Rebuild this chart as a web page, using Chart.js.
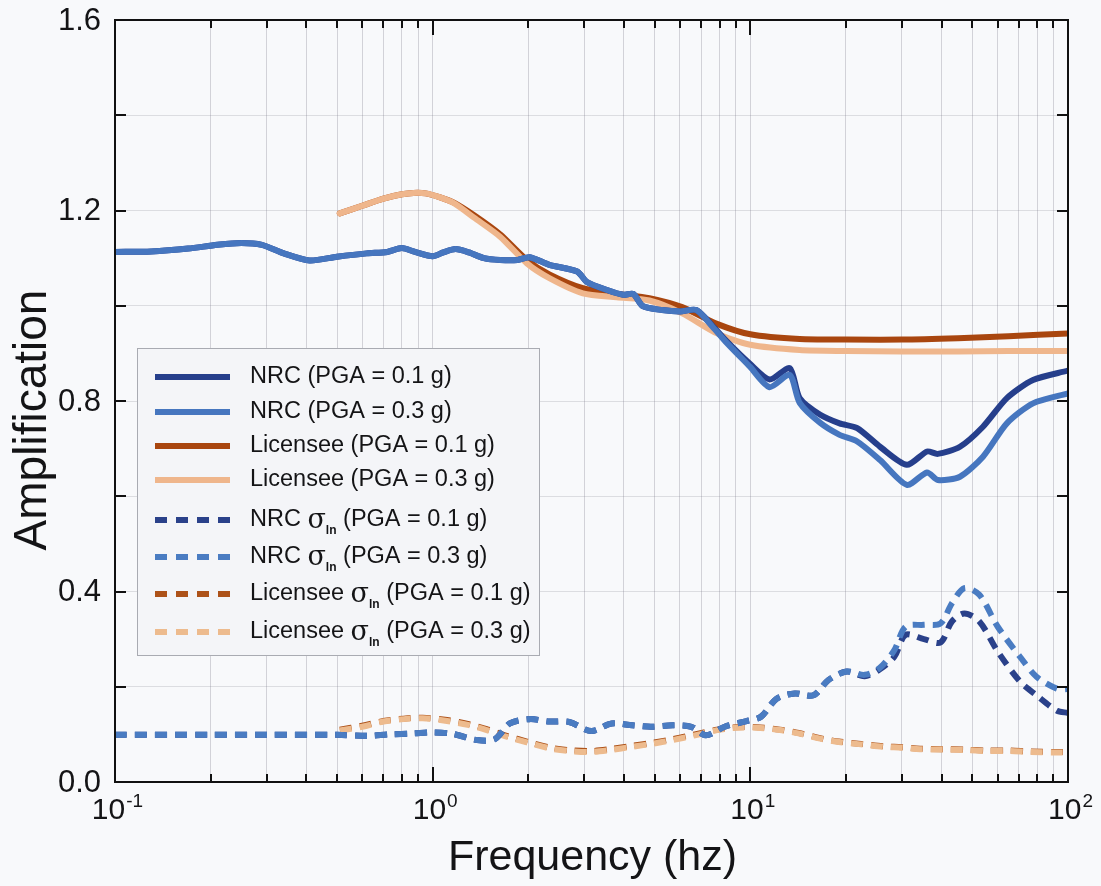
<!DOCTYPE html>
<html><head><meta charset="utf-8">
<script src="https://cdn.jsdelivr.net/npm/chart.js@4.4.1/dist/chart.umd.min.js"></script>
<style>html,body{margin:0;padding:0;background:#f8f9fb;}#wrap{width:1101px;height:886px;}</style>
</head><body><div id="wrap"><canvas id="c" width="1101" height="886"></canvas></div>
<script>
// ---- data ----
const nrcFreq = [0.1,0.13,0.17,0.21,0.25,0.29,0.34,0.41,0.5,0.62,0.72,0.8,0.88,1.0,1.08,1.18,1.3,1.45,1.63,1.85,2.02,2.33,2.85,3.06,3.54,3.98,4.28,4.59,5.28,6.0,6.76,7.6,8.43,9.97,11.5,13.3,14.3,16.6,19.1,21.7,25.6,31.1,36.0,38.9,45.7,54.0,64.2,77.6,100];
const nrc03 = [1.113,1.114,1.120,1.128,1.132,1.128,1.110,1.095,1.103,1.110,1.113,1.121,1.113,1.104,1.112,1.119,1.112,1.100,1.096,1.096,1.102,1.086,1.072,1.050,1.033,1.023,1.025,0.999,0.991,0.988,0.991,0.956,0.922,0.872,0.829,0.855,0.796,0.754,0.729,0.715,0.676,0.624,0.650,0.634,0.641,0.683,0.753,0.795,0.816];
const nrc01 = [1.113,1.114,1.120,1.128,1.132,1.128,1.110,1.095,1.103,1.110,1.113,1.121,1.113,1.104,1.112,1.119,1.112,1.100,1.096,1.096,1.102,1.086,1.072,1.050,1.033,1.023,1.025,0.999,0.991,0.988,0.991,0.958,0.925,0.878,0.845,0.869,0.806,0.771,0.753,0.743,0.704,0.666,0.694,0.689,0.704,0.746,0.806,0.844,0.864];

const licFreq = [0.51,0.6,0.7,0.8,0.87,0.95,1.05,1.17,1.35,1.63,1.98,2.33,2.97,3.8,4.81,6.1,7.85,10,14.3,20,30,45,65,100];
const lic03 = [1.194,1.210,1.225,1.234,1.237,1.236,1.228,1.215,1.185,1.145,1.089,1.058,1.026,1.018,1.011,0.984,0.942,0.918,0.907,0.905,0.904,0.904,0.905,0.905];
const lic01 = [1.194,1.210,1.225,1.234,1.237,1.236,1.228,1.216,1.190,1.150,1.096,1.066,1.037,1.025,1.016,0.997,0.962,0.940,0.930,0.929,0.929,0.932,0.936,0.942];

const nrcSigFreq = [0.1,0.2,0.3,0.5,0.62,0.73,0.87,1.0,1.16,1.38,1.57,1.75,2.02,2.33,2.69,3.16,3.66,4.25,4.86,5.70,6.52,7.25,8.30,9.73,10.8,12.1,13.8,15.8,17.6,20.1,22.9,25.5,28.4,30.8,35.2,39.7,43.1,47.2,52.6,60.1,70.6,79.6,92.2,100];
const nrcSig03 = [0.099,0.099,0.099,0.099,0.097,0.100,0.102,0.104,0.101,0.088,0.090,0.123,0.132,0.127,0.126,0.107,0.123,0.119,0.116,0.119,0.116,0.098,0.116,0.128,0.137,0.175,0.186,0.182,0.214,0.232,0.225,0.239,0.277,0.326,0.330,0.333,0.375,0.407,0.393,0.326,0.263,0.221,0.196,0.195];
const nrcSig01 = [0.099,0.099,0.099,0.099,0.097,0.100,0.102,0.104,0.101,0.088,0.090,0.123,0.132,0.127,0.126,0.107,0.123,0.119,0.116,0.119,0.116,0.098,0.116,0.128,0.137,0.175,0.186,0.182,0.214,0.232,0.222,0.236,0.263,0.309,0.300,0.293,0.337,0.354,0.337,0.274,0.211,0.182,0.150,0.145];

const licSigFreq = [0.51,0.60,0.70,0.81,0.93,1.11,1.29,1.48,1.71,1.98,2.36,2.69,3.16,3.62,4.25,4.98,5.70,6.69,7.86,8.99,10.5,12.4,14.2,16.6,19.0,22.3,26.2,30.0,34.3,40.2,47.2,55.5,65.2,76.5,92.2,100];
const licSig03 = [0.108,0.116,0.127,0.132,0.134,0.128,0.120,0.109,0.095,0.083,0.070,0.065,0.063,0.067,0.074,0.081,0.088,0.098,0.109,0.114,0.114,0.109,0.102,0.091,0.084,0.079,0.074,0.072,0.069,0.068,0.067,0.065,0.065,0.063,0.062,0.062];
const licSig01 = [0.110,0.118,0.128,0.133,0.135,0.130,0.122,0.111,0.097,0.085,0.072,0.067,0.065,0.069,0.076,0.083,0.090,0.100,0.110,0.115,0.115,0.110,0.103,0.092,0.085,0.080,0.075,0.073,0.070,0.069,0.068,0.066,0.066,0.064,0.063,0.063];

// ticks / labels
const xGrid = [0.1,0.2,0.3,0.4,0.5,0.6,0.7,0.8,0.9,1,2,3,4,5,6,7,8,9,10,20,30,40,50,60,70,80,90,100];
const xMajor = [0.1,1,10,100];
const xExp = ['-1','0','1','2'];
const yGrid = [0,0.2,0.4,0.6,0.8,1.0,1.2,1.4,1.6];
const yLabels = [0,0.4,0.8,1.2,1.6];
const xTitle = 'Frequency (hz)';
const yTitle = 'Amplification';

const C_NRC1 = '#263f8c', C_NRC3 = '#4676bf', C_LIC1 = '#a9460f', C_LIC3 = '#efb68c';
const C_SN1 = '#2a418a', C_SN3 = '#4a7cc2', C_SL1 = '#ad5219', C_SL3 = '#edbb8e';

const legendItems = [
  {pre:'NRC', sig:false, post:' (PGA = 0.1 g)'},
  {pre:'NRC', sig:false, post:' (PGA = 0.3 g)'},
  {pre:'Licensee', sig:false, post:' (PGA = 0.1 g)'},
  {pre:'Licensee', sig:false, post:' (PGA = 0.3 g)'},
  {pre:'NRC ', sig:true, post:' (PGA = 0.1 g)'},
  {pre:'NRC ', sig:true, post:' (PGA = 0.3 g)'},
  {pre:'Licensee ', sig:true, post:' (PGA = 0.1 g)'},
  {pre:'Licensee ', sig:true, post:' (PGA = 0.3 g)'}
];

const pts = (xs, ys) => xs.map((f,i)=>({x:f, y:ys[i]}));
const solid = (data,color,order) => ({data, borderColor:color, borderWidth:6, pointRadius:0, tension:0.25, fill:false, order, borderCapStyle:'round', borderJoinStyle:'round'});
const dashed = (data,color,order) => ({data, borderColor:color, borderWidth:6, pointRadius:0, tension:0.3, fill:false, order, borderDash:[12,8]});

const datasets = [
  solid(pts(nrcFreq,nrc01), C_NRC1, 1),
  solid(pts(nrcFreq,nrc03), C_NRC3, 0),
  solid(pts(licFreq,lic01), C_LIC1, 3),
  solid(pts(licFreq,lic03), C_LIC3, 2),
  dashed(pts(nrcSigFreq,nrcSig01), C_SN1, 5),
  dashed(pts(nrcSigFreq,nrcSig03), C_SN3, 4),
  dashed(pts(licSigFreq,licSig01), C_SL1, 7),
  dashed(pts(licSigFreq,licSig03), C_SL3, 6)
];

const FONT = '"Liberation Sans", Arial, Helvetica, sans-serif';
const TXT = '#141416';

const deco = {
  id:'deco',
  afterDraw(chart){
    const {ctx, chartArea:a, scales:{x, y}} = chart;
    const ln = (x1,y1,x2,y2)=>{ctx.beginPath();ctx.moveTo(x1,y1);ctx.lineTo(x2,y2);ctx.stroke();};
    ctx.save();
    // ticks (inward)
    ctx.strokeStyle = '#111'; ctx.lineWidth = 2;
    yGrid.forEach(v=>{const py = Math.round(y.getPixelForValue(v)); ln(a.left,py,a.left+11,py); ln(a.right,py,a.right-11,py);});
    xGrid.forEach(f=>{const px = Math.round(x.getPixelForValue(f)); const L = xMajor.includes(f)?15:8; ln(px,a.bottom,px,a.bottom-L); ln(px,a.top,px,a.top+L);});
    // frame
    ctx.lineWidth = 2;
    ctx.strokeRect(a.left, a.top, a.right-a.left, a.bottom-a.top);
    // y labels
    ctx.fillStyle = TXT;
    ctx.font = '31px ' + FONT; ctx.textAlign='right'; ctx.textBaseline='middle';
    yLabels.forEach(v=>ctx.fillText(v.toFixed(1), a.left-14, y.getPixelForValue(v)+1));
    // x labels with superscripts
    ctx.textBaseline='alphabetic'; ctx.textAlign='left';
    xMajor.forEach((f,i)=>{
      const px = x.getPixelForValue(f);
      ctx.font = '30px ' + FONT; const w1 = ctx.measureText('10').width;
      ctx.font = '19px ' + FONT; const w2 = ctx.measureText(xExp[i]).width;
      const x0 = px - (w1+w2)/2 + 2;
      ctx.font = '30px ' + FONT; ctx.fillText('10', x0, 819);
      ctx.font = '19px ' + FONT; ctx.fillText(xExp[i], x0+w1+1, 807);
    });
    // axis titles
    ctx.font = '43px ' + FONT; ctx.textAlign='center'; ctx.textBaseline='alphabetic';
    ctx.fillText(xTitle, (a.left+a.right)/2 + 1, 870);
    ctx.font = '46px ' + FONT;
    ctx.save(); ctx.translate(46, 420); ctx.rotate(-Math.PI/2); ctx.fillText(yTitle, 0, 0); ctx.restore();
    // legend
    const bx=137, by=348, bw=402, bh=307;
    ctx.fillStyle='#f4f5f8'; ctx.fillRect(bx,by,bw,bh);
    ctx.strokeStyle='#a9abb2'; ctx.lineWidth=1; ctx.strokeRect(bx+0.5,by+0.5,bw,bh);
    const rows=[377,412,446,480,520,557,594,632];
    legendItems.forEach((it,i)=>{
      const ds = chart.data.datasets[i];
      const ry = rows[i];
      ctx.strokeStyle = ds.borderColor; ctx.lineWidth = 6;
      ctx.setLineDash(ds.borderDash ? [12,9] : []);
      ctx.lineCap='butt';
      ln(155, ry, 230, ry);
      ctx.setLineDash([]);
      ctx.fillStyle = TXT; ctx.textAlign='left'; ctx.textBaseline='middle';
      let tx = 250;
      ctx.font = '23.5px ' + FONT;
      ctx.fillText(it.pre, tx, ry); tx += ctx.measureText(it.pre).width;
      if (it.sig){
        ctx.font = '27px "DejaVu Serif", "Liberation Serif", serif';
        ctx.fillText('σ', tx, ry+1); tx += ctx.measureText('σ').width;
        ctx.font = 'bold 12px ' + FONT;
        ctx.fillText('ln', tx, ry+11); tx += ctx.measureText('ln').width;
        ctx.font = '23.5px ' + FONT;
      }
      ctx.fillText(it.post, tx, ry);
    });
    ctx.restore();
  }
};

new Chart(document.getElementById('c'), {
  type:'line',
  data:{datasets},
  options:{
    responsive:false, animation:false, devicePixelRatio:1,
    layout:{padding:{left:115, right:33, top:20, bottom:104}},
    plugins:{legend:{display:false}, tooltip:{enabled:false}},
    scales:{
      x:{type:'logarithmic', min:0.1, max:100,
         afterBuildTicks:s=>{s.ticks = xGrid.map(v=>({value:v}));},
         afterFit:s=>{s.height=0;},
         ticks:{display:false}, border:{display:false},
         grid:{color:'rgba(110,112,125,0.28)', lineWidth:1, drawTicks:false}},
      y:{type:'linear', min:0, max:1.6,
         afterBuildTicks:s=>{s.ticks = yGrid.map(v=>({value:v}));},
         afterFit:s=>{s.width=0;},
         ticks:{display:false}, border:{display:false},
         grid:{color:'rgba(110,112,125,0.2)', lineWidth:1, drawTicks:false}}
    }
  },
  plugins:[deco]
});
</script>
</body></html>
